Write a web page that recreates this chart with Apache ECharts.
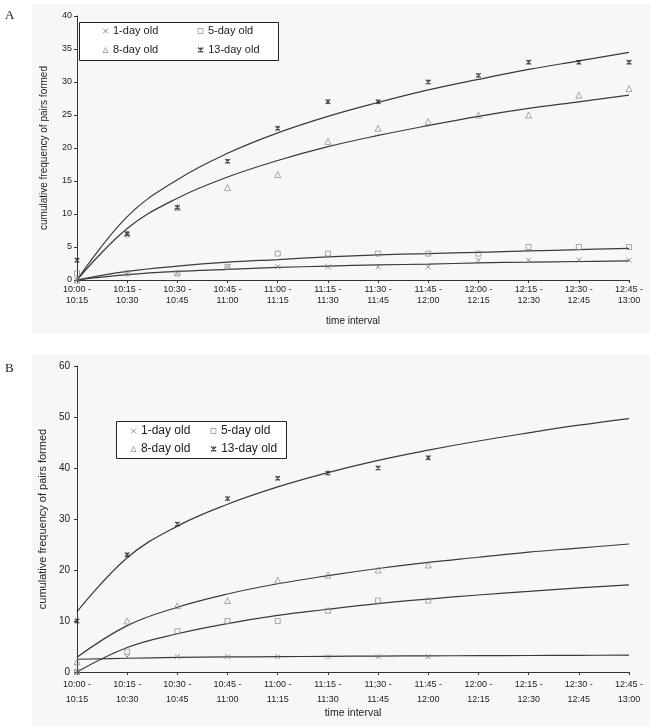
<!DOCTYPE html>
<html>
<head>
<meta charset="utf-8">
<script src="https://cdn.jsdelivr.net/npm/echarts@6/dist/echarts.min.js"></script>
<style>
html,body{margin:0;padding:0;background:#fff;}
#chart{width:650px;height:726px;}
</style>
</head>
<body>
<div id="chart"></div>
<script>
// ---- categories ----
const categories = ['10:00 -\n10:15','10:15 -\n10:30','10:30 -\n10:45','10:45 -\n11:00','11:00 -\n11:15','11:15 -\n11:30','11:30 -\n11:45','11:45 -\n12:00','12:00 -\n12:15','12:15 -\n12:30','12:30 -\n12:45','12:45 -\n13:00'];
const categoriesB = ['10:00 -\n10:15','10:15 -\n10:30','10:30 -\n10:45','10:45 -\n11:00','11:00 -\n11:15','11:15 -\n11:30','11;30 -\n11:45','11:45 -\n12:00','12:00 -\n12:15','12:15 -\n12:30','12:30 -\n12:45','12:45 -\n13:00'];
const seriesNames = ['1-day old','5-day old','8-day old','13-day old'];

// ---- panel A observed ----
const a1Day  = [0,1,1,2,2,2,2,2,3,3,3,3];
const a5Day  = [1,1,1,2,4,4,4,4,4,5,5,5];
const a8Day  = [0,7,11,14,16,21,23,24,25,25,28,29];
const a13Day = [3,7,11,18,23,27,27,30,31,33,33,33];
// ---- panel A trend lines ----
const aFit1  = [0,0.8,1.3,1.6,1.9,2.1,2.3,2.4,2.6,2.7,2.8,2.9];
const aFit5  = [0,1.3,2.1,2.7,3.1,3.5,3.8,4.0,4.2,4.4,4.6,4.8];
const aFit8  = [0,7.8,12.4,15.6,18.1,20.2,21.9,23.4,24.8,26.0,27.0,28.0];
const aFit13 = [0,9.6,15.2,19.2,22.3,24.8,26.9,28.8,30.4,31.9,33.2,34.5];

// ---- panel B observed ----
const b1Day  = [0,3,3,3,3,3,3,3];
const b5Day  = [0,4,8,10,10,12,14,14];
const b8Day  = [2,10,13,14,18,19,20,21];
const b13Day = [10,23,29,34,38,39,40,42];
// ---- panel B trend lines ----
const bFit1  = [2.5,2.7,2.85,2.95,3.0,3.07,3.12,3.17,3.2,3.24,3.27,3.3];
const bFit5  = [0,4.8,7.5,9.5,11.1,12.3,13.4,14.3,15.1,15.8,16.5,17.1];
const bFit8  = [2.9,9.1,12.7,15.3,17.3,18.9,20.3,21.5,22.5,23.5,24.3,25.1];
const bFit13 = [11.8,22.4,28.6,32.9,36.3,39.1,41.5,43.5,45.3,46.9,48.4,49.7];

// ---- ticks ----
const yTicksA = {min:0, max:40, interval:5};
const yTicksB = {min:0, max:60, interval:10};

const FONT = '"Liberation Sans", Arial, sans-serif';
const BG = '#f7f7f7';
const TXT = '#222';

const XPATH = 'path://M0,0L10,10M10,0L0,10';
const STARPATH = 'path://M0,0L10,10M10,0L0,10M5,0L5,10';

const markerStyles = [
  {symbol: XPATH, symbolSize: 5, itemStyle:{color:'transparent', borderColor:'#777', borderWidth:1}},
  {symbol: 'rect', symbolSize: 5, itemStyle:{color:'transparent', borderColor:'#888', borderWidth:0.9}},
  {symbol: 'triangle', symbolSize: 6, itemStyle:{color:'transparent', borderColor:'#888', borderWidth:0.9}},
  {symbol: STARPATH, symbolSize: 4.5, itemStyle:{color:'transparent', borderColor:'#222', borderWidth:1.3}}
];

function scatter(name, data, idx, k){
  return Object.assign({
    type:'scatter', name:name, data:data,
    xAxisIndex:idx, yAxisIndex:idx, z:5, silent:true
  }, markerStyles[k]);
}
function trend(data, idx){
  return {
    type:'line', data:data, xAxisIndex:idx, yAxisIndex:idx,
    smooth:0.4, showSymbol:false, silent:true, z:4,
    lineStyle:{color:'#3a3a3a', width:1.2}
  };
}

function xAxis(idx, cats, fs, lh, margin, gap, nameFs){
  return {
    type:'category', gridIndex:idx, data:cats, boundaryGap:false,
    name:'time interval', nameLocation:'middle', nameGap:gap,
    nameTextStyle:{fontFamily:FONT, fontSize:nameFs, color:TXT},
    axisLine:{lineStyle:{color:'#333', width:1}},
    axisTick:{show:true, length:3, alignWithLabel:true, interval:0, lineStyle:{color:'#333'}},
    axisLabel:{interval:0, fontFamily:FONT, fontSize:fs, lineHeight:lh, color:TXT, margin:margin},
    splitLine:{show:false}
  };
}
function yAxis(idx, t, fs, nameFs, gap, margin){
  return {
    type:'value', gridIndex:idx, min:t.min, max:t.max, interval:t.interval,
    name:'cumulative frequency of pairs formed', nameLocation:'middle', nameGap:gap, nameRotate:90,
    nameTextStyle:{fontFamily:FONT, fontSize:nameFs, color:TXT},
    axisLine:{show:true, lineStyle:{color:'#333', width:1}},
    axisTick:{show:true, length:3, lineStyle:{color:'#333'}},
    axisLabel:{fontFamily:FONT, fontSize:fs, color:TXT, margin:margin},
    splitLine:{show:false}
  };
}
function legend(k, left, top, fs){
  const m = markerStyles[k];
  return {
    data:[{name:seriesNames[k], icon:m.symbol, itemStyle:{color:'transparent', borderColor:m.itemStyle.borderColor, borderWidth:m.itemStyle.borderWidth}}],
    left:left, top:top, orient:'horizontal', padding:0,
    itemWidth:5, itemHeight:5, selectedMode:false,
    textStyle:{fontFamily:FONT, fontSize:fs, color:TXT}
  };
}

const chart = echarts.init(document.getElementById('chart'), null, {renderer:'canvas'});
const option = {
  backgroundColor:'#fff',
  animation:false,
  graphic:[
    {type:'rect', shape:{x:32, y:4, width:618, height:329}, style:{fill:BG}, z:-10, silent:true},
    {type:'rect', shape:{x:32, y:355, width:618, height:371}, style:{fill:BG}, z:-10, silent:true},
    {type:'text', left:5, top:9, style:{text:'A', font:'13px "Liberation Serif", serif', fill:'#222'}},
    {type:'text', left:5, top:362, style:{text:'B', font:'13px "Liberation Serif", serif', fill:'#222'}},
    {type:'rect', shape:{x:79.5, y:22.5, width:199, height:38}, style:{fill:'#fff', stroke:'#222', lineWidth:1}, z:1, silent:true},
    {type:'rect', shape:{x:116.5, y:421.5, width:170, height:37}, style:{fill:'#fff', stroke:'#222', lineWidth:1}, z:1, silent:true}
  ],
  legend:[
    legend(0, 102.5, 25.5, 11),
    legend(1, 197.5, 25.5, 11),
    legend(2, 102.5, 44.5, 11),
    legend(3, 197.5, 44.5, 11),
    legend(0, 130.5, 425, 12),
    legend(1, 210.5, 425, 12),
    legend(2, 130.5, 443, 12),
    legend(3, 210.5, 443, 12)
  ],
  grid:[
    {left:77, right:21, top:16, height:264, containLabel:false},
    {left:77, right:21, top:366, height:306, containLabel:false}
  ],
  xAxis:[
    xAxis(0, categories, 9, 11, 4, 36, 10),
    xAxis(1, categoriesB, 9, 15, 5, 29, 10.5)
  ],
  yAxis:[
    yAxis(0, yTicksA, 9, 10, 28, 5),
    yAxis(1, yTicksB, 10, 11, 19.5, 7)
  ],
  series:[
    trend(aFit1,0), trend(aFit5,0), trend(aFit8,0), trend(aFit13,0),
    scatter(seriesNames[0], a1Day, 0, 0),
    scatter(seriesNames[1], a5Day, 0, 1),
    scatter(seriesNames[2], a8Day, 0, 2),
    scatter(seriesNames[3], a13Day, 0, 3),
    trend(bFit1,1), trend(bFit5,1), trend(bFit8,1), trend(bFit13,1),
    scatter(seriesNames[0], b1Day, 1, 0),
    scatter(seriesNames[1], b5Day, 1, 1),
    scatter(seriesNames[2], b8Day, 1, 2),
    scatter(seriesNames[3], b13Day, 1, 3)
  ]
};
chart.setOption(option);
</script>
</body>
</html>
